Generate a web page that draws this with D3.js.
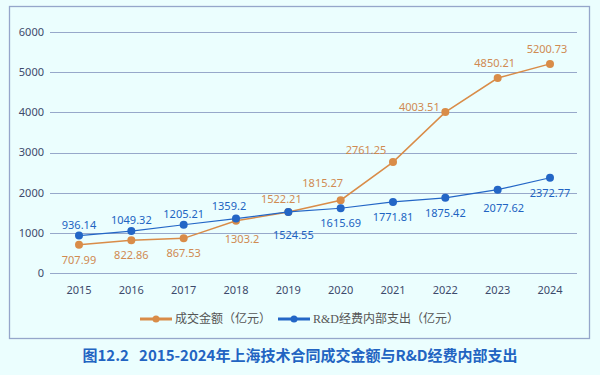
<!DOCTYPE html>
<html lang="zh">
<head>
  <meta charset="UTF-8">
  <title>2015-2024年上海技术合同成交金额与R&D经费内部支出</title>
  <script src="https://d3js.org/d3.v7.min.js"></script>
  <style>
    body {
      margin: 0;
      padding: 0;
      background-color: #ebfefe;
    }
    svg {
      display: block;
    }
    .tick-label {
      font: 11px "Noto Sans", "Noto Sans CJK SC", sans-serif;
      fill: #3d4a6c;
    }
    .value-label {
      font: 11px "Noto Sans", "Noto Sans CJK SC", sans-serif;
    }
    .legend-label {
      font: 12px "Liberation Serif", "Noto Sans CJK SC", serif;
      fill: #555;
    }
    .title {
      font: bold 15px "Noto Sans CJK SC", sans-serif;
      fill: #2264c2;
    }
  </style>
</head>
<body>
  <script>
    const years = ["2015", "2016", "2017", "2018", "2019", "2020", "2021", "2022", "2023", "2024"];
    const dealValues = [707.99, 822.86, 867.53, 1303.2, 1522.21, 1815.27, 2761.25, 4003.51, 4850.21, 5200.73];
    const rdValues = [936.14, 1049.32, 1205.21, 1359.2, 1524.55, 1615.69, 1771.81, 1875.42, 2077.62, 2372.77];
    const yTicks = [0, 1000, 2000, 3000, 4000, 5000, 6000];
    // where each value label sits around its point
    const dealLabelPlace = ["below", "below", "below", "belowRight", "aboveLeft", "upLeft", "farLeft", "left", "aboveHigh", "aboveHigh"];
    const rdLabelPlace = ["above", "above", "above", "aboveLeft", "farBelow", "below", "below", "below", "belowRight", "below"];
    const seriesNames = ["成交金额（亿元）", "R&D经费内部支出（亿元）"];
    const title = "图12.2\u00a0\u00a0\u00a02015-2024年上海技术合同成交金额与R&D经费内部支出";

    const W = 600, H = 375;
    const orange = "#d98c48";
    const blue = "#2366c6";

    const offsets = {
      below: [0, 15],
      belowRight: [6, 18],
      farBelow: [5, 23],
      above: [0, -11],
      aboveHigh: [-3, -15],
      aboveLeft: [-7, -13],
      upLeft: [-18, -17],
      farLeft: [-27, -12],
      left: [-26, -5]
    };

    const svg = d3.select("body").append("svg")
      .attr("width", W)
      .attr("height", H);

    // panel border
    svg.append("rect")
      .attr("x", 9.5).attr("y", 6.5)
      .attr("width", 580).attr("height", 332)
      .attr("fill", "#ebfefe")
      .attr("stroke", "#95a6ca")
      .attr("stroke-width", 1.3);

    const x = d3.scalePoint().domain(years).range([79, 550]);
    const y = d3.scaleLinear().domain([0, 6000]).range([273.3, 31.7]);

    // grid
    svg.append("g")
      .selectAll("line")
      .data(yTicks)
      .join("line")
      .attr("x1", 50).attr("x2", 577)
      .attr("y1", d => Math.round(y(d)) + 0.5)
      .attr("y2", d => Math.round(y(d)) + 0.5)
      .attr("stroke", "#97a8ca")
      .attr("stroke-width", 1.1);

    svg.append("g")
      .selectAll("text")
      .data(yTicks)
      .join("text")
      .attr("class", "tick-label")
      .attr("x", 44)
      .attr("y", d => y(d))
      .attr("dy", "0.36em")
      .attr("text-anchor", "end")
      .text(d => d);

    svg.append("g")
      .selectAll("text")
      .data(years)
      .join("text")
      .attr("class", "tick-label")
      .attr("x", d => x(d))
      .attr("y", 290)
      .attr("dy", "0.36em")
      .attr("text-anchor", "middle")
      .text(d => d);

    const line = d3.line()
      .x((d, i) => x(years[i]))
      .y(d => y(d));

    function drawSeries(values, color, labelColor, width, places) {
      const g = svg.append("g");
      g.append("path")
        .datum(values)
        .attr("d", line)
        .attr("fill", "none")
        .attr("stroke", color)
        .attr("stroke-width", width);
      g.selectAll("circle")
        .data(values)
        .join("circle")
        .attr("cx", (d, i) => x(years[i]))
        .attr("cy", d => y(d))
        .attr("r", 4)
        .attr("fill", color);
      g.selectAll("text")
        .data(values)
        .join("text")
        .attr("class", "value-label")
        .attr("x", (d, i) => x(years[i]) + offsets[places[i]][0])
        .attr("y", (d, i) => y(d) + offsets[places[i]][1])
        .attr("dy", "0.36em")
        .attr("text-anchor", "middle")
        .attr("fill", labelColor)
        .text(d => d);
    }

    drawSeries(dealValues, orange, "#d08a52", 1.5, dealLabelPlace);
    drawSeries(rdValues, blue, "#2164c2", 1.2, rdLabelPlace);

    // legend
    const legend = svg.append("g").attr("transform", "translate(0,319)");
    const legendItems = [
      { name: seriesNames[0], color: orange, x0: 140 },
      { name: seriesNames[1], color: blue, x0: 278 }
    ];
    legendItems.forEach(item => {
      legend.append("line")
        .attr("x1", item.x0).attr("x2", item.x0 + 32)
        .attr("y1", 0).attr("y2", 0)
        .attr("stroke", item.color)
        .attr("stroke-width", 3);
      legend.append("circle")
        .attr("cx", item.x0 + 16).attr("cy", 0)
        .attr("r", 3.5)
        .attr("fill", item.color);
      legend.append("text")
        .attr("class", "legend-label")
        .attr("x", item.x0 + 35)
        .attr("y", 0)
        .attr("dy", "0.36em")
        .text(item.name);
    });

    svg.append("text")
      .attr("class", "title")
      .attr("x", 300)
      .attr("y", 356)
      .attr("dy", "0.36em")
      .attr("text-anchor", "middle")
      .text(title);
  </script>
</body>
</html>
